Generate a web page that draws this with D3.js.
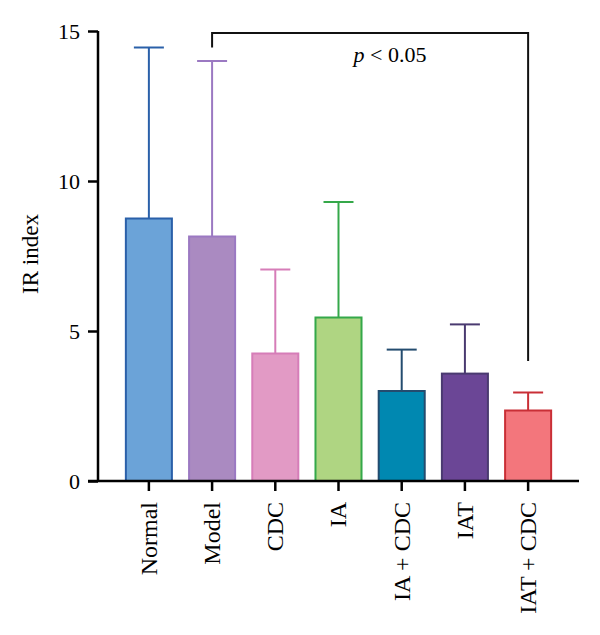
<!DOCTYPE html>
<html>
<head>
<meta charset="utf-8">
<script src="https://cdn.jsdelivr.net/npm/d3@7"></script>
<style>
  body { margin: 0; background: #fff; }
  text { font-family: "Liberation Serif", "DejaVu Serif", serif; }
</style>
</head>
<body>
<svg width="600" height="635"></svg>
<script>
// data
var groups = ['Normal', 'Model', 'CDC', 'IA', 'IA + CDC', 'IAT', 'IAT + CDC']
var means = [8.75, 8.15, 4.25, 5.45, 3.0, 3.58, 2.35]
var errTop = [14.45, 14.0, 7.05, 9.3, 4.38, 5.22, 2.95]
var yTicks = [0, 5, 10, 15]

var fills = ['#6ba3d8', '#aa8ac1', '#e29ac5', '#afd582', '#0088b1', '#6b4696', '#f3767c']
var strokes = ['#2a60a9', '#9b79c2', '#d67db8', '#35a84a', '#244c6f', '#4a3a70', '#c92f36']

var svg = d3.select('svg')

var y = d3.scaleLinear()
  .domain([0, 15])
  .range([481, 31])

var x = d3.scaleBand()
  .domain(groups)
  .range([98, 579])
  .paddingInner(0.24)
  .paddingOuter(0.425)

// bars
svg.selectAll('rect.bar')
  .data(groups).enter().append('rect')
  .attr('class', 'bar')
  .attr('x', function(d) { return x(d) + 1; })
  .attr('width', x.bandwidth() - 2)
  .attr('y', function(d, i) { return y(means[i]); })
  .attr('height', function(d, i) { return y(0) - y(means[i]); })
  .style('fill', function(d, i) { return fills[i]; })
  .style('stroke', function(d, i) { return strokes[i]; })
  .style('stroke-width', 2)

// error bars (upper only)
var capW = 30
var err = svg.selectAll('g.err')
  .data(groups).enter().append('g')
  .attr('class', 'err')
  .style('stroke', function(d, i) { return strokes[i]; })
  .style('stroke-width', 2)
err.append('line')
  .attr('x1', function(d) { return x(d) + x.bandwidth() / 2; })
  .attr('x2', function(d) { return x(d) + x.bandwidth() / 2; })
  .attr('y1', function(d, i) { return y(means[i]); })
  .attr('y2', function(d, i) { return y(errTop[i]); })
err.append('line')
  .attr('x1', function(d) { return x(d) + x.bandwidth() / 2 - capW / 2; })
  .attr('x2', function(d) { return x(d) + x.bandwidth() / 2 + capW / 2; })
  .attr('y1', function(d, i) { return y(errTop[i]); })
  .attr('y2', function(d, i) { return y(errTop[i]); })

// y axis
var yAxis = svg.append('g')
  .attr('transform', 'translate(98,0)')
  .call(d3.axisLeft(y).tickValues(yTicks).tickSize(10).tickPadding(8))
yAxis.select('.domain').attr('d', 'M0,' + y(15) + 'V' + (y(0) + 1)).style('stroke-width', 2.5)
yAxis.selectAll('.tick line').style('stroke-width', 2.5)
yAxis.selectAll('text').style('font-size', '22px').style('font-family', '"Liberation Serif", serif')

// x axis
var xAxis = svg.append('g')
  .attr('transform', 'translate(0,' + y(0) + ')')
  .call(d3.axisBottom(x).tickSize(10).tickSizeOuter(0))
xAxis.select('.domain').attr('d', 'M88,0H579').style('stroke-width', 2.5)
xAxis.selectAll('.tick line').style('stroke-width', 2.5)
xAxis.selectAll('text')
  .style('font-size', '24px')
  .style('font-family', '"Liberation Serif", serif')
  .style('text-anchor', 'end')
  .attr('y', 0)
  .attr('x', 0)
  .attr('transform', 'translate(0,21) rotate(-90)')
  .attr('dy', '0.33em')

// y label
svg.append('text')
  .attr('transform', 'translate(38,254) rotate(-90)')
  .style('text-anchor', 'middle')
  .style('font-size', '23px')
  .text('IR index')

// significance bracket Model vs IAT + CDC
var xa = x('Model') + x.bandwidth() / 2
var xb = x('IAT + CDC') + x.bandwidth() / 2
var yb = y(14.93)
svg.append('path')
  .attr('d', 'M' + xa + ',' + y(14.45) + 'V' + yb + 'H' + xb + 'V' + y(4.0))
  .style('fill', 'none')
  .style('stroke', '#111')
  .style('stroke-width', 2)

var pt = svg.append('text')
  .attr('x', 390)
  .attr('y', 62)
  .style('text-anchor', 'middle')
  .style('font-size', '22px')
pt.append('tspan').style('font-style', 'italic').text('p')
pt.append('tspan').text(' < 0.05')
</script>
</body>
</html>
